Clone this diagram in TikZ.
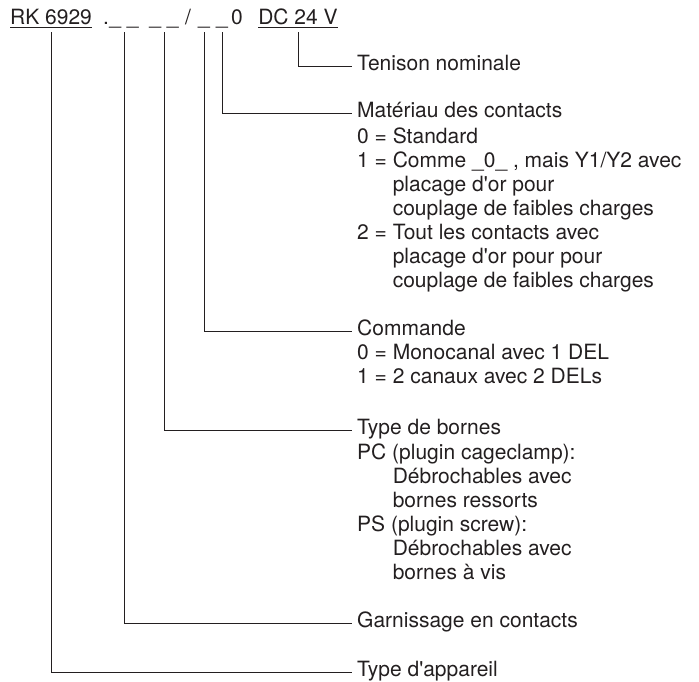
\documentclass[tikz,border=0pt]{standalone}
\usepackage{fontspec}
\setmainfont{TeX Gyre Heros}
\usepackage{tikz}
\usetikzlibrary{positioning}
\usepackage{xcolor}
\definecolor{myink}{HTML}{231F20}
\tikzset{every text node part/.style={font={\fontsize{21}{24}\selectfont}, text=myink}}
\tikzstyle{code} = [inner sep=0pt, text height=15pt, text depth=7pt, anchor=base]
\tikzstyle{head} = [inner xsep=5pt, inner ysep=0pt, text height=15pt, text depth=7pt, anchor=west]
\newcommand{\ind}{\phantom{1 = }}
\newcommand{\apo}{\textquotesingle}

\begin{document}
\begin{tikzpicture}[
    x=1pt, y=-1pt,
    body/.style={inner sep=0pt, align=left},
    line/.style={draw=myink, line width=1pt}
  ]
  \useasboundingbox (0,0) rectangle (699,682);

  % Define type code
  \node[code] (rk) at (51,25) {\underline{RK 6929}};
  \node[code] (dot) at (106,25) {.};
  \node[code] (f1) at (124,25) {\_ \_};
  \node[code] (f2) at (164,25) {\_ \_};
  \node[code] (slash) at (188,25) {/};
  \node[code] (f3) at (204,25) {\_};
  \node[code] (f4) at (222,25) {\_};
  \node[code] (zero) at (237,25) {0};
  \node[code] (dc) at (298,25) {\underline{DC 24 V}};

  % Define labels
  \node[head] (ten) at (352,67) {Tenison nominale};

  \node[head] (mat) at (352,114) {Matériau des contacts};
  \node[body, below right=2pt and 5pt of mat.south west] (matOpt) {0 = Standard\\
    1 = Comme \_0\_ , mais Y1/Y2 avec\\
    \ind placage d\apo or pour\\
    \ind couplage de faibles charges\\
    2 = Tout les contacts avec\\
    \ind placage d\apo or pour pour\\
    \ind couplage de faibles charges};

  \node[head] (cmd) at (352,331) {Commande};
  \node[body, below right=2pt and 5pt of cmd.south west] (cmdOpt) {0 = Monocanal avec 1 DEL\\
    1 = 2 canaux avec 2 DELs};

  \node[head] (bor) at (352,430) {Type de bornes};
  \node[body, below right=2pt and 5pt of bor.south west] (borOpt) {PC (plugin cageclamp):\\
    \ind Débrochables avec\\
    \ind bornes ressorts\\
    PS (plugin screw):\\
    \ind Débrochables avec\\
    \ind bornes à vis};

  \node[head] (gar) at (352,623) {Garnissage en contacts};
  \node[head] (app) at (352,672) {Type d\apo appareil};

  % Draw lines
  \draw[line] (dc.south) |- (ten);
  \draw[line] (f4.south) |- (mat);
  \draw[line] (f3.south) |- (cmd);
  \draw[line] (f2.south) |- (bor);
  \draw[line] (f1.south) |- (gar);
  \draw[line] (rk.south) |- (app);

\end{tikzpicture}
\end{document}
